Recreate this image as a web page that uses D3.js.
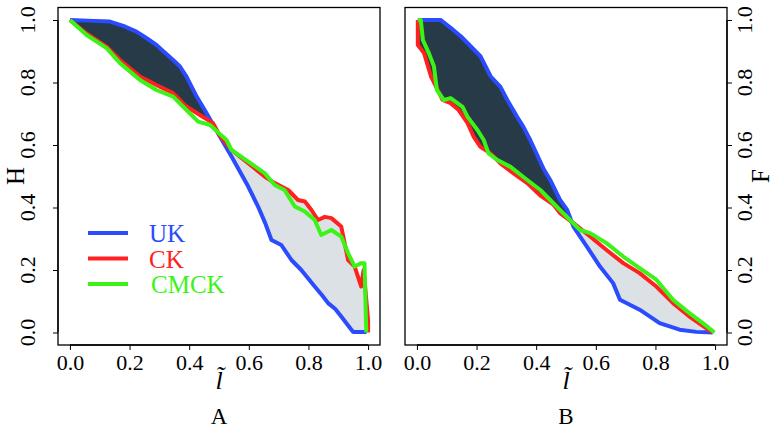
<!DOCTYPE html>
<html>
<head>
<meta charset="utf-8">
<script src="https://cdn.jsdelivr.net/npm/d3@7"></script>
<style>
  body { margin: 0; background: #fff; }
  text { font-family: "Liberation Serif", "DejaVu Serif", serif; }
</style>
</head>
<body>
<div id="chart"></div>
<script>
// data, [l, value]
var ukA = [[0,1],[0.06,0.998],[0.134,0.995],[0.179,0.981],[0.223,0.963],[0.26,0.94],[0.29,0.92],
  [0.346,0.872],[0.369,0.851],[0.391,0.819],[0.425,0.755],[0.458,0.702],[0.486,0.655],[0.503,0.627],
  [0.542,0.563],[0.57,0.515],[0.598,0.467],[0.631,0.403],[0.655,0.35],[0.676,0.296],[0.709,0.28],
  [0.743,0.232],[0.776,0.2],[0.821,0.147],[0.845,0.12],[0.866,0.094],[0.89,0.075],[0.91,0.051],
  [0.944,0.009],[0.95,0.002],[0.995,0.002]];
var ckA = [[0,1],[0.056,0.957],[0.123,0.915],[0.168,0.872],[0.235,0.819],[0.29,0.792],[0.346,0.766],
  [0.391,0.723],[0.436,0.696],[0.48,0.67],[0.503,0.63],[0.542,0.584],[0.598,0.542],[0.653,0.499],
  [0.687,0.478],[0.732,0.456],[0.765,0.424],[0.788,0.419],[0.81,0.392],[0.832,0.36],[0.855,0.37],
  [0.877,0.366],[0.91,0.339],[0.933,0.232],[0.955,0.211],[0.977,0.147],[0.985,0.2],[0.994,0.105],
  [1,0.04],[1,0]];
var cmckA = [[0,1],[0.056,0.952],[0.123,0.91],[0.168,0.862],[0.235,0.808],[0.29,0.776],[0.346,0.755],
  [0.391,0.712],[0.43,0.675],[0.47,0.664],[0.525,0.616],[0.542,0.584],[0.598,0.547],[0.653,0.51],
  [0.687,0.472],[0.72,0.456],[0.754,0.403],[0.788,0.387],[0.821,0.36],[0.843,0.312],[0.877,0.328],
  [0.91,0.307],[0.933,0.254],[0.955,0.211],[0.977,0.222],[0.988,0.222],[0.994,0]];

var ukB = [[0.003,1],[0.08,1],[0.113,0.975],[0.147,0.948],[0.18,0.916],[0.213,0.884],[0.247,0.82],
  [0.28,0.786],[0.303,0.744],[0.336,0.69],[0.357,0.658],[0.38,0.616],[0.424,0.525],[0.447,0.488],
  [0.48,0.424],[0.504,0.392],[0.525,0.339],[0.57,0.275],[0.614,0.211],[0.658,0.158],[0.681,0.105],
  [0.747,0.073],[0.814,0.03],[0.881,0.009],[0.937,0.002],[0.992,0]];
var ckB = [[0.003,1],[0.003,0.92],[0.024,0.894],[0.047,0.82],[0.07,0.776],[0.086,0.744],[0.113,0.734],
  [0.14,0.712],[0.17,0.67],[0.19,0.627],[0.213,0.594],[0.247,0.573],[0.28,0.541],[0.324,0.509],
  [0.37,0.478],[0.414,0.438],[0.457,0.41],[0.48,0.382],[0.525,0.35],[0.581,0.307],[0.636,0.264],
  [0.692,0.222],[0.747,0.19],[0.803,0.147],[0.859,0.094],[0.914,0.051],[0.992,0]];
var cmckB = [[0.003,1],[0.013,1],[0.02,0.936],[0.04,0.894],[0.057,0.852],[0.067,0.776],[0.09,0.744],
  [0.113,0.75],[0.153,0.722],[0.17,0.69],[0.203,0.648],[0.224,0.616],[0.24,0.573],[0.27,0.552],
  [0.314,0.53],[0.37,0.488],[0.414,0.456],[0.48,0.392],[0.547,0.328],[0.581,0.318],[0.636,0.286],
  [0.692,0.243],[0.747,0.206],[0.803,0.169],[0.859,0.105],[0.914,0.062],[0.959,0.03],[0.998,0]];

var crossA = 0.503, crossB = 0.505;
var ticks = [0, 0.2, 0.4, 0.6, 0.8, 1.0];
var seriesNames = ["UK", "CK", "CMCK"];
var colors = ["#2b4bff", "#ff2020", "#3cf318"];

var W = 773, H = 431;
var svg = d3.select("#chart").append("svg").attr("width", W).attr("height", H);

function panel(id, left, uk, ck, cmck, cross, ySide, yLabel, letter) {
  var boxL = left, boxR = left + 322, boxT = 7.5, boxB = 345;
  var x = d3.scaleLinear().domain([-0.04, 1.04]).range([boxL, boxR]);
  var y = d3.scaleLinear().domain([-0.04, 1.04]).range([boxB, boxT]);
  var g = svg.append("g");

  // clip the filled region into the part above and below the crossing
  var defs = svg.append("defs");
  defs.append("clipPath").attr("id", id + "lo")
    .append("rect").attr("x", boxL).attr("y", boxT).attr("width", x(cross) - boxL).attr("height", boxB - boxT);
  defs.append("clipPath").attr("id", id + "hi")
    .append("rect").attr("x", x(cross)).attr("y", boxT).attr("width", boxR - x(cross)).attr("height", boxB - boxT);

  var line = d3.line().x(function (d) { return x(d[0]); }).y(function (d) { return y(d[1]); });
  var poly = uk.concat(ck.slice().reverse());
  g.append("path").attr("d", line(poly) + "Z").attr("fill", "#263a47")
    .attr("clip-path", "url(#" + id + "lo)");
  g.append("path").attr("d", line(poly) + "Z").attr("fill", "#dbe1e4")
    .attr("clip-path", "url(#" + id + "hi)");

  [uk, ck, cmck].forEach(function (s, i) {
    g.append("path").datum(s)
      .attr("fill", "none")
      .attr("stroke", colors[i])
      .attr("stroke-width", 4)
      .attr("stroke-linejoin", "round")
      .attr("d", line);
  });

  // box
  g.append("rect").attr("x", boxL).attr("y", boxT).attr("width", boxR - boxL).attr("height", boxB - boxT)
    .attr("fill", "none").attr("stroke", "#000").attr("stroke-width", 1.3);

  // x axis
  var xa = g.append("g").attr("transform", "translate(0," + boxB + ")")
    .call(d3.axisBottom(x).tickValues(ticks).tickFormat(d3.format(".1f")).tickSizeOuter(0).tickSize(5).tickPadding(4));
  xa.select(".domain").attr("d", "M" + x(0) + ",0H" + x(1)).attr("stroke-width", 1.3);
  xa.selectAll("text").attr("font-size", 22).attr("font-family", "Liberation Serif");

  // y axis
  var yx = ySide === "left" ? boxL : boxR;
  var ya = g.append("g").attr("transform", "translate(" + yx + ",0)")
    .call((ySide === "left" ? d3.axisLeft(y) : d3.axisRight(y)).tickValues(ticks)
      .tickFormat(d3.format(".1f")).tickSizeOuter(0).tickSize(5));
  ya.select(".domain").attr("d", "M0," + y(0) + "V" + y(1)).attr("stroke-width", 1.3);
  ya.selectAll("text").remove();
  var labX = ySide === "left" ? boxL - 23 : boxR + 25;
  ticks.forEach(function (t) {
    g.append("text").attr("transform", "translate(" + labX + "," + y(t) + ") rotate(-90)")
      .attr("text-anchor", "middle").attr("font-size", 22).text(d3.format(".1f")(t));
  });
  var titX = ySide === "left" ? 24 : 769;
  g.append("text").attr("transform", "translate(" + titX + ",176) rotate(-90)")
    .attr("text-anchor", "middle").attr("font-size", 25).text(yLabel);

  // x label: italic l with combining tilde
  var cx = (boxL + boxR) / 2;
  g.append("text").attr("x", cx).attr("y", 389).attr("text-anchor", "middle")
    .attr("font-size", 26).attr("font-style", "italic").text("l\u0303");
  g.append("text").attr("x", cx).attr("y", 424).attr("text-anchor", "middle")
    .attr("font-size", 23).text(letter);
  return g;
}

var gA = panel("pa", 58, ukA, ckA, cmckA, crossA, "left", "H", "A");
panel("pb", 405, ukB, ckB, cmckB, crossB, "right", "F", "B");

// legend in panel A
var legY = d3.scalePoint().domain(seriesNames).range([233, 284]);
seriesNames.forEach(function (n, i) {
  gA.append("line").attr("x1", 88).attr("x2", 128).attr("y1", legY(n)).attr("y2", legY(n))
    .attr("stroke", colors[i]).attr("stroke-width", 4);
  gA.append("text").attr("x", n === "CMCK" ? 151 : 149).attr("y", legY(n) + 9)
    .attr("font-size", 25).attr("fill", colors[i]).text(n);
});
</script>
</body>
</html>
